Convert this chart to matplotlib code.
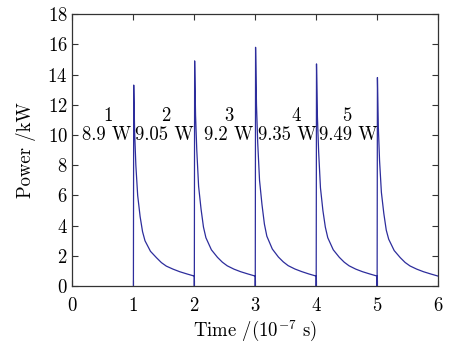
import matplotlib
matplotlib.use("Agg")
import matplotlib.pyplot as plt

# pulse start times (1e-7 s) and peak powers (kW)
pulse_starts = [1, 2, 3, 4, 5]
# time offsets within one pulse and power readings for each pulse
offsets = [0.0, 0.005, 0.02, 0.04, 0.07, 0.11, 0.15, 0.19, 0.28, 0.38, 0.46,
           0.54, 0.65, 0.76, 0.88, 1.0]
pulse_power = [
    [0, 13.3, 10.2, 8.0, 6.0, 4.6, 3.6, 3.0, 2.3, 1.87, 1.55, 1.32, 1.12, 0.95, 0.80, 0.66],
    [0, 14.9, 11.3, 9.0, 6.6, 5.1, 3.9, 3.2, 2.4, 1.9, 1.58, 1.34, 1.12, 0.95, 0.80, 0.66],
    [0, 15.8, 12.0, 9.5, 7.0, 5.4, 4.1, 3.3, 2.45, 1.92, 1.6, 1.35, 1.13, 0.96, 0.80, 0.66],
    [0, 14.7, 11.2, 8.9, 6.5, 5.0, 3.9, 3.2, 2.4, 1.9, 1.58, 1.34, 1.12, 0.95, 0.80, 0.66],
    [0, 13.8, 10.5, 8.3, 6.2, 4.8, 3.7, 3.1, 2.35, 1.88, 1.56, 1.33, 1.12, 0.95, 0.80, 0.66],
]
labels_num = ["1", "2", "3", "4", "5"]
labels_pow = ["8.9 W", "9.05 W", "9.2 W", "9.35 W", "9.49 W"]
num_x = [0.58, 1.53, 2.56, 3.67, 4.51]
pow_x = [0.56, 1.50, 2.56, 3.52, 4.53]

plt.rcParams["font.family"] = "serif"
plt.rcParams["font.serif"] = ["cmr10", "DejaVu Serif"]
plt.rcParams["mathtext.fontset"] = "cm"
plt.rcParams["axes.formatter.use_mathtext"] = True

fig = plt.figure(figsize=(4.53, 3.43), dpi=100)
ax = fig.add_axes([0.160, 0.166, 0.807, 0.793])

t = []
p = []
for start, vals in zip(pulse_starts, pulse_power):
    for dt, v in zip(offsets, vals):
        t.append(start + dt)
        p.append(v)
ax.plot(t, p, color="#2d2d9c", linewidth=0.9)

for x, s in zip(num_x, labels_num):
    ax.text(x, 11.25, s, ha="center", va="center", fontsize=13.5)
for x, s in zip(pow_x, labels_pow):
    ax.text(x, 10.0, s, ha="center", va="center", fontsize=13.5)

ax.set_xlim(0, 6)
ax.set_ylim(0, 18)
ax.set_xticks(range(0, 7))
ax.set_yticks(range(0, 19, 2))
ax.tick_params(direction="in", top=True, right=True, length=4,
               labelsize=13.5, color="#333333")
ax.tick_params(axis="x", pad=8)
for sp in ax.spines.values():
    sp.set_color("#333333")
    sp.set_linewidth(0.9)
ax.set_xlabel(r"Time /(10$^{-7}$ s)", fontsize=13.5, labelpad=3)
ax.set_ylabel("Power /kW", fontsize=13.5, labelpad=8)

fig.savefig("out.png", dpi=100)
